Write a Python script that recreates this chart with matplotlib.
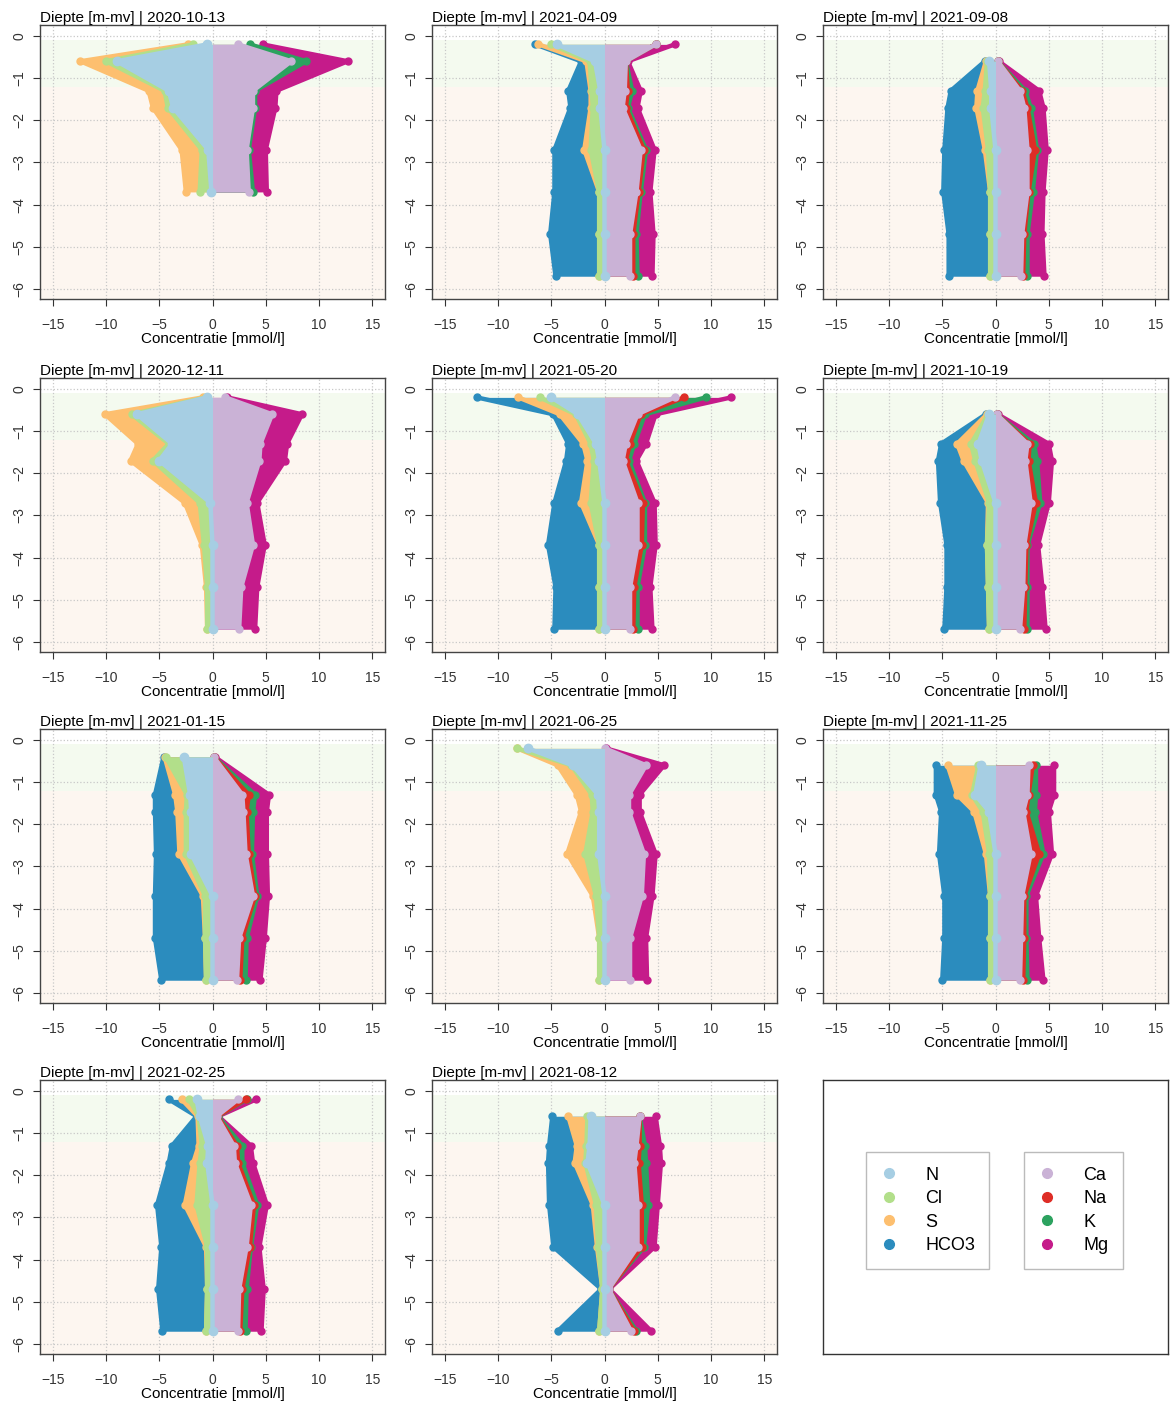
import numpy as np
import matplotlib
matplotlib.use("Agg")
import matplotlib.pyplot as plt
from matplotlib.lines import Line2D

plt.rcParams["font.family"] = ["Liberation Sans", "DejaVu Sans"]

# panel volgorde: kolom voor kolom
dates = ["2020-10-13", "2020-12-11", "2021-01-15", "2021-02-25",
         "2021-04-09", "2021-05-20", "2021-06-25", "2021-08-12",
         "2021-09-08", "2021-10-19", "2021-11-25"]

depths = [
    [-0.2, -0.6, -1.3, -1.7, -2.7, -3.7],
    [-0.2, -0.6, -1.3, -1.7, -2.7, -3.7, -4.7, -5.7],
    [-0.4, -1.3, -1.7, -2.7, -3.7, -4.7, -5.7],
    [-0.2, -0.6, -1.3, -1.7, -2.7, -3.7, -4.7, -5.7],
    [-0.2, -0.6, -1.3, -1.7, -2.7, -3.7, -4.7, -5.7],
    [-0.2, -0.6, -1.3, -1.7, -2.7, -3.7, -4.7, -5.7],
    [-0.2, -0.6, -1.3, -1.7, -2.7, -3.7, -4.7, -5.7],
    [-0.6, -1.3, -1.7, -2.7, -3.7, -4.7, -5.7],
    [-0.6, -1.3, -1.7, -2.7, -3.7, -4.7, -5.7],
    [-0.6, -1.3, -1.7, -2.7, -3.7, -4.7, -5.7],
    [-0.6, -1.3, -1.7, -2.7, -3.7, -4.7, -5.7],
]

# anionen (links) [mmol/l]
N = [
    [0.5, 9.0, 4.1, 3.7, 0.4, 0.1],
    [0.5, 7.1, 3.8, 5.0, 0.2, 0.0, 0.0, 0.0],
    [2.7, 2.1, 2.0, 2.0, 0.0, 0.0, 0.0],
    [1.5, 1.2, 0.4, 0.5, 0.0, 0.0, 0.0, 0.0],
    [4.5, 0.9, 0.4, 0.4, 0.0, 0.0, 0.0, 0.0],
    [5.0, 2.5, 0.8, 0.5, 0.0, 0.0, 0.0, 0.0],
    [7.2, 3.0, 0.6, 0.5, 0.5, 0.0, 0.0, 0.0],
    [1.3, 1.4, 1.6, 0.0, 0.0, 0.0, 0.0],
    [0.6, 0.4, 0.4, 0.0, 0.0, 0.0, 0.0],
    [0.6, 1.6, 1.3, 0.0, 0.0, 0.0, 0.0],
    [1.4, 1.9, 0.6, 0.0, 0.0, 0.0, 0.0],
]
Cl = [
    [1.3, 1.0, 0.4, 0.5, 0.6, 1.1],
    [0.1, 0.5, 0.3, 0.6, 1.0, 0.8, 0.5, 0.5],
    [1.7, 0.3, 0.5, 0.5, 0.7, 0.7, 0.6],
    [0.7, 0.1, 0.6, 0.7, 1.5, 0.5, 0.5, 0.6],
    [0.5, 0.5, 0.8, 0.7, 1.3, 0.5, 0.5, 0.5],
    [1.1, 0.2, 0.5, 0.5, 1.3, 0.5, 0.5, 0.5],
    [1.0, 0.1, 0.6, 0.6, 1.3, 0.8, 0.5, 0.5],
    [0.3, 0.3, 0.2, 0.8, 0.6, 0.2, 0.5],
    [0.2, 0.6, 0.8, 0.7, 0.5, 0.5, 0.5],
    [0.1, 0.7, 0.6, 0.6, 0.8, 0.7, 0.6],
    [0.2, 0.3, 0.6, 0.6, 0.5, 0.5, 0.5],
]
S = [
    [0.5, 2.4, 1.5, 1.4, 1.9, 1.3],
    [0.3, 2.5, 2.9, 2.1, 1.4, 0.2, 0.1, 0.0],
    [0.1, 1.1, 0.8, 0.6, 0.2, 0.0, 0.0],
    [0.7, 0.1, 0.3, 0.6, 1.1, 0.1, 0.0, 0.0],
    [1.2, 0.3, 0.1, 0.2, 0.6, 0.0, 0.0, 0.0],
    [2.0, 1.5, 0.7, 0.6, 0.9, 0.0, 0.0, 0.0],
    [0.0, 1.3, 1.4, 1.1, 1.7, 0.3, 0.0, 0.0],
    [1.8, 0.9, 1.0, 0.3, 0.1, 0.0, 0.0],
    [0.1, 0.7, 0.6, 0.3, 0.0, 0.0, 0.0],
    [0.1, 1.3, 1.1, 0.1, 0.0, 0.0, 0.0],
    [2.9, 1.4, 0.8, 0.3, 0.0, 0.0, 0.0],
]
HCO3 = [
    [0.0, 0.0, 0.0, 0.0, 0.0, 0.0],
    [0.0, 0.0, 0.0, 0.0, 0.0, 0.0, 0.0, 0.0],
    [0.1, 1.9, 2.1, 2.2, 4.5, 4.7, 4.2],
    [1.2, 0.1, 2.5, 2.3, 2.6, 4.2, 4.6, 4.1],
    [0.3, 0.5, 2.1, 1.9, 2.8, 4.2, 4.6, 4.1],
    [3.9, 0.6, 1.4, 2.0, 2.5, 4.8, 4.1, 4.2],
    [0.0, 0.0, 0.0, 0.0, 0.0, 0.0, 0.0, 0.0],
    [1.5, 2.6, 2.5, 4.1, 4.1, 0.1, 3.9],
    [0.1, 2.5, 2.7, 3.8, 4.4, 3.9, 3.9],
    [0.1, 1.5, 2.4, 4.5, 3.8, 3.9, 4.2],
    [1.1, 2.0, 3.1, 4.4, 4.3, 4.3, 4.5],
]

# kationen (rechts) [mmol/l]
Ca = [
    [2.4, 7.4, 3.8, 3.8, 3.2, 3.4],
    [1.2, 5.6, 4.5, 4.4, 3.2, 3.8, 2.7, 2.5],
    [0.1, 2.8, 2.9, 3.1, 3.8, 2.5, 2.3],
    [2.4, 0.4, 2.0, 2.1, 3.6, 3.2, 2.5, 2.4],
    [4.8, 2.0, 1.9, 1.7, 3.4, 3.0, 2.4, 2.4],
    [6.6, 3.1, 2.0, 1.7, 3.1, 3.1, 2.4, 2.4],
    [0.05, 3.9, 2.3, 2.3, 3.7, 3.5, 2.4, 2.4],
    [3.3, 3.0, 2.8, 3.1, 3.1, 0.4, 2.5],
    [0.2, 2.3, 2.7, 3.0, 3.0, 2.5, 2.4],
    [0.1, 3.0, 2.8, 3.3, 2.7, 2.6, 2.3],
    [3.1, 3.0, 2.6, 3.3, 2.5, 2.4, 2.3],
]
Na = [
    [0.0, 0.0, 0.0, 0.0, 0.0, 0.0],
    [0.0, 0.0, 0.0, 0.0, 0.0, 0.0, 0.0, 0.0],
    [0.0, 0.6, 0.3, 0.3, 0.2, 0.3, 0.3],
    [0.7, 0.05, 0.3, 0.3, 0.3, 0.3, 0.3, 0.2],
    [0.0, 0.0, 0.3, 0.3, 0.3, 0.2, 0.3, 0.3],
    [0.9, 0.3, 0.4, 0.3, 0.5, 0.4, 0.4, 0.3],
    [0.0, 0.0, 0.0, 0.0, 0.0, 0.0, 0.0, 0.0],
    [0.0, 0.3, 0.4, 0.4, 0.4, 0.0, 0.3],
    [0.0, 0.2, 0.3, 0.7, 0.1, 0.2, 0.2],
    [0.0, 0.2, 0.3, 0.5, 0.2, 0.2, 0.4],
    [0.4, 0.1, 0.3, 0.8, 0.2, 0.3, 0.3],
]
K = [
    [1.1, 1.4, 0.2, 0.2, 0.2, 0.4],
    [0.0, 0.0, 0.0, 0.0, 0.0, 0.0, 0.0, 0.0],
    [0.0, 0.6, 0.6, 0.3, 0.2, 0.4, 0.5],
    [0.1, 0.05, 0.5, 0.4, 0.3, 0.1, 0.4, 0.5],
    [0.0, 0.0, 0.4, 0.2, 0.2, 0.2, 0.3, 0.4],
    [2.0, 0.4, 0.4, 0.3, 0.2, 0.3, 0.3, 0.4],
    [0.0, 0.0, 0.0, 0.0, 0.0, 0.0, 0.0, 0.0],
    [0.0, 0.5, 0.7, 0.6, 0.2, 0.0, 0.2],
    [0.0, 0.3, 0.3, 0.2, 0.4, 0.3, 0.4],
    [0.0, 0.4, 0.8, 0.4, 0.1, 0.2, 0.3],
    [0.3, 0.7, 0.8, 0.4, 0.2, 0.2, 0.4],
]
Mg = [
    [1.2, 3.9, 2.0, 1.9, 1.6, 1.3],
    [0.2, 2.8, 2.5, 2.4, 1.0, 1.1, 1.5, 1.5],
    [0.1, 1.3, 1.3, 1.4, 1.0, 1.7, 1.4],
    [0.9, 0.05, 0.8, 1.0, 0.9, 0.8, 1.6, 1.5],
    [1.8, 0.2, 0.8, 0.9, 0.8, 0.9, 1.6, 1.4],
    [2.4, 1.0, 1.1, 0.7, 0.9, 1.0, 1.2, 1.4],
    [0.1, 1.7, 1.0, 1.0, 1.1, 1.0, 1.5, 1.6],
    [1.5, 1.4, 1.4, 0.9, 1.0, 0.05, 1.4],
    [0.1, 1.3, 1.2, 0.9, 1.0, 1.4, 1.6],
    [0.1, 1.4, 1.4, 0.8, 1.0, 1.4, 1.7],
    [1.7, 1.7, 1.3, 0.8, 0.9, 1.2, 1.5],
]

anion_names = ["N", "Cl", "S", "HCO3"]
cation_names = ["Ca", "Na", "K", "Mg"]
anion_cols = ["#a6cee3", "#b2df8a", "#fdbf6f", "#2b8cbe"]
cation_cols = ["#cab2d6", "#de2d26", "#2ca25f", "#c51b8a"]

W, H = 1173, 1403
fig = plt.figure(figsize=(W / 100, H / 100), dpi=100)

col_left = [40, 432, 823]
row_top = [25, 378, 729, 1080]
aw, ah = 345, 274


def add_axes_px(left, top):
    return fig.add_axes([left / W, 1 - (top + ah) / H, aw / W, ah / H])


def draw_side(ax, depth, layers, cols, sign):
    vals = np.array(layers, dtype=float)
    cum = np.cumsum(vals, axis=0) * sign
    # buitenste laag eerst, binnenste erover
    for k in reversed(range(len(vals))):
        if not np.any(vals[k]):
            continue
        ax.fill_betweenx(depth, 0, cum[k], color=cols[k], lw=0, zorder=3)
        ax.plot(cum[k], depth, color=cols[k], lw=3.2, marker="o", ms=5,
                solid_joinstyle="round", zorder=3)
    return cum


for i, date in enumerate(dates):
    ax = add_axes_px(col_left[i // 4], row_top[i % 4])
    d = np.array(depths[i])

    ax.set_xlim(-16.2, 16.2)
    ax.set_ylim(-6.24, 0.26)
    ax.axhspan(-1.2, -0.1, color="#f4faef", lw=0, zorder=0)
    ax.axhspan(-6.24, -1.2, color="#fdf6f0", lw=0, zorder=0)
    ax.set_xticks(np.arange(-15, 16, 5))
    ax.set_yticks(np.arange(-6, 1, 1))
    ax.grid(True, color="#c8c8c8", linestyle=":", lw=0.9, zorder=1)
    ax.set_axisbelow(True)

    draw_side(ax, d, [Ca[i], Na[i], K[i], Mg[i]], cation_cols, 1)
    cum_a = draw_side(ax, d, [N[i], Cl[i], S[i], HCO3[i]], anion_cols, -1)
    # N punten bovenop
    ax.plot(cum_a[0], d, ls="none", marker="o", ms=6, color=anion_cols[0], zorder=4)

    ax.set_title(f"Diepte [m-mv] | {date}", loc="left", fontsize=11, pad=2)
    ax.set_xlabel("Concentratie [mmol/l]", fontsize=11, labelpad=0)
    ax.tick_params(labelsize=10, colors="#333333", length=5)
    ax.tick_params(axis="x", pad=9)
    ax.tick_params(axis="y", pad=5)
    for lab in ax.get_yticklabels():
        lab.set_rotation(90)
        lab.set_va("center")
    for sp in ax.spines.values():
        sp.set_color("#444444")
        sp.set_linewidth(1)

# legenda paneel
lax = add_axes_px(col_left[2], row_top[3])
lax.set_xticks([])
lax.set_yticks([])
for sp in lax.spines.values():
    sp.set_color("#333333")
    sp.set_linewidth(1)


def handles(cols):
    return [Line2D([], [], ls="none", marker="o", ms=7, color=c) for c in cols]


leg_kw = dict(loc="center", fontsize=13, frameon=True, fancybox=False,
              edgecolor="#aaaaaa", handlelength=1.0, handletextpad=1.5,
              labelspacing=0.36, borderpad=0.8, borderaxespad=0)
leg1 = lax.legend(handles(anion_cols), anion_names,
                  bbox_to_anchor=(0.303, 0.524), **leg_kw)
leg1.get_frame().set_linewidth(1)
lax.add_artist(leg1)
leg2 = lax.legend(handles(cation_cols), cation_names,
                  bbox_to_anchor=(0.726, 0.524), **leg_kw)
leg2.get_frame().set_linewidth(1)

fig.savefig("out.png", dpi=100)
